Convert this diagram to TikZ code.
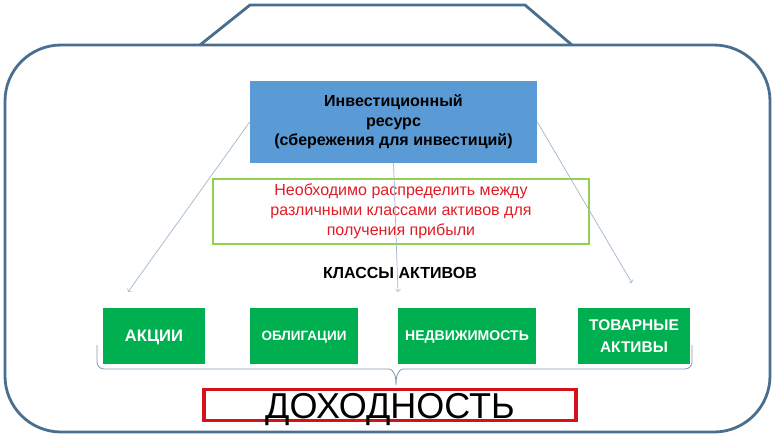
\documentclass[tikz,border=0pt]{standalone}
\usepackage{fontspec}
\setmainfont{Liberation Sans}
\usetikzlibrary{calc}

\definecolor{frameblue}{RGB}{74,110,142}
\definecolor{resblue}{RGB}{91,155,213}
\definecolor{assetgreen}{RGB}{0,176,80}
\definecolor{notegreen}{RGB}{146,208,80}
\definecolor{notered}{RGB}{226,28,36}
\definecolor{arrowgray}{RGB}{160,182,204}
\definecolor{bracegray}{RGB}{130,155,180}
\definecolor{yieldred}{RGB}{212,18,26}

\begin{document}
\begin{tikzpicture}[x=0.025cm,y=-0.025cm,
	asset/.style={fill=assetgreen,text=white,align=center,inner sep=0pt,text depth=0pt,minimum height=1.4cm},
	thinarrow/.style={->,arrowgray,line width=0.5pt}]

\useasboundingbox (0,0) rectangle (777,437);

	% frame
	\draw [frameblue,line width=2pt,rounded corners=1.4cm] (5,45) rectangle (770,432);
	\draw [frameblue,line width=2pt,line join=round] (200,45) -- (250,5) -- (525,5) -- (572,45);

	\node (res)[fill=resblue,minimum width=7.175cm,minimum height=2.05cm,align=center,font=\fontsize{11.4}{13.8}\selectfont\bfseries] at (393.5,122){Инвестиционный\\ ресурс\\ (сбережения для инвестиций)};
	\node (note)[draw=notegreen,line width=1.5pt,minimum width=9.4cm,minimum height=1.53cm,text=notered,align=center,font=\fontsize{11.4}{14.2}\selectfont] at (401,211.5){Необходимо распределить между\\ различными классами активов для\\ получения прибыли};
	\node (cls)[font=\fontsize{11.4}{13}\selectfont\bfseries] at (400,273){КЛАССЫ АКТИВОВ};

	\node (a1)[asset,minimum width=2.55cm,font=\fontsize{11.8}{14}\selectfont\bfseries] at (154,336){АКЦИИ};
	\node (a2)[asset,minimum width=2.7cm,font=\fontsize{9.6}{12}\selectfont\bfseries] at (304,336){ОБЛИГАЦИИ};
	\node (a3)[asset,minimum width=3.45cm,font=\fontsize{10}{12}\selectfont\bfseries] at (467,336){НЕДВИЖИМОСТЬ};
	\node (a4)[asset,minimum width=2.8cm,font=\fontsize{11}{16}\selectfont\bfseries] at (634,336){ТОВАРНЫЕ\\ АКТИВЫ};

	\node (yld)[draw=yieldred,line width=2.4pt,minimum width=9.3cm,minimum height=0.775cm,inner sep=0pt,text height=19pt,text depth=0pt,font=\fontsize{25.6}{28}\selectfont] at (390,405){ДОХОДНОСТЬ};

	\coordinate (e1) at (128,292);
	\coordinate (e2) at (398,292);
	\coordinate (e3) at (632,283);

	\draw [thinarrow] (res.west) -- (e1);
	\draw [thinarrow] (res.south) -- (e2);
	\draw [thinarrow] (res.east) -- (e3);

	% brace under the asset classes
	\coordinate (bl) at (97,345);
	\coordinate (br) at (692,345);
	\draw [bracegray,line width=0.6pt] (bl) -- (97,362) to[out=-90,in=180] (104,369) -- (388,369) to[out=0,in=90] (396,385) to[out=90,in=180] (404,369) -- (685,369) to[out=0,in=-90] (692,362) -- (br);

\end{tikzpicture}
\end{document}
